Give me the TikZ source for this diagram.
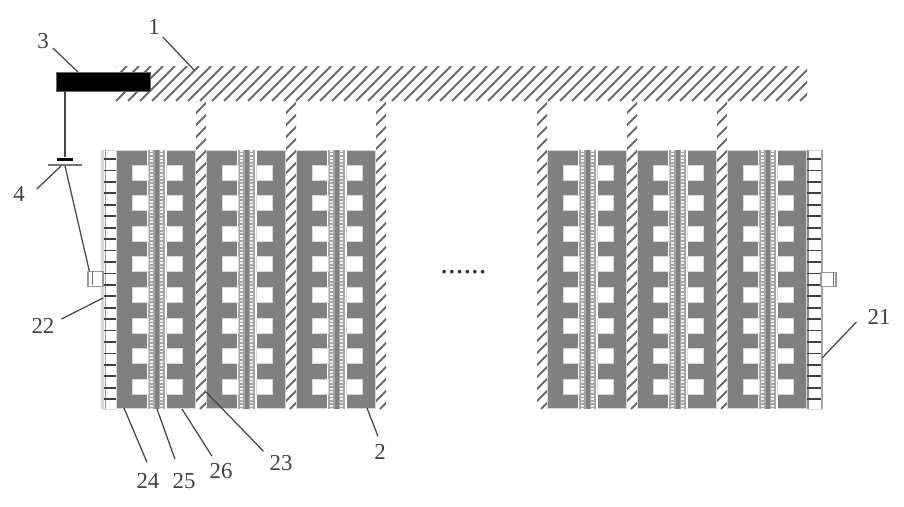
\documentclass[tikz,border=0pt]{standalone}
\usepackage{xcolor}
\usepackage{fontspec}
\setmainfont{Liberation Serif}
\usetikzlibrary{positioning,calc}
\definecolor{blockgray}{RGB}{128,128,128}
\definecolor{bandgray}{RGB}{165,165,165}
\definecolor{dotgray}{RGB}{240,240,240}
\definecolor{edgegray}{RGB}{215,215,215}
\definecolor{hatchgray}{RGB}{105,105,105}
\definecolor{leadgray}{RGB}{70,70,70}

% hatched area: x1, y1, x2, y2
\newcommand{\hatchbox}[4]{%
    \begin{scope}
        \clip (#1,#2) rectangle (#3,#4);
        \pgfmathsetmacro{\hstart}{#1-(#4-#2)}
        \pgfmathsetmacro{\hnext}{\hstart+12}
        \pgfmathsetmacro{\hend}{#3}
        \foreach \d in {\hstart,\hnext,...,\hend} {
            \draw [hatchline] (\d,#4) -- ({\d+#4-#2},#2);
        }
    \end{scope}%
}

\begin{document}
\begin{tikzpicture}[x=0.02cm, y=-0.02cm]
    % Define styles
    \tikzstyle{hatchline} = [draw=hatchgray, line width=0.042cm]
    \tikzstyle{module} = [rectangle, draw=edgegray, line width=0.02cm, fill=blockgray, minimum width=1.6cm, minimum height=5.18cm, inner sep=0pt, outer sep=0pt]
    \tikzstyle{window} = [fill=white, draw=edgegray, line width=0.02cm]
    \tikzstyle{tick} = [draw=black!75, line width=0.035cm]
    \tikzstyle{tab} = [rectangle, draw=black!40, line width=0.025cm, fill=white, minimum width=0.3cm, minimum height=0.29cm, inner sep=0pt]
    \tikzstyle{lead} = [draw=leadgray, line width=0.025cm]
    \tikzstyle{numlabel} = [font=\fontsize{13}{13}\selectfont, text=black!75, inner sep=1pt]

    \useasboundingbox (0,0) rectangle (904,507);

    % Bus bar
    \hatchbox{115}{66}{807}{101}
    \node [rectangle, fill=black, draw=black!60, minimum width=1.88cm, minimum height=0.38cm, inner sep=0pt] (bar) at (103,81.5) {};

    % Hatched strips
    \foreach \x in {196,286,376,537,627,717} {
        \hatchbox{\x}{101}{\x+10}{409}
    }

    % Modules
    \foreach \x in {116,206,296,547,637,727} {
        \node [module] (mod\x) at (\x+40,279.5) {};
        \fill [white] (\x+31,150) rectangle (\x+51,409);
        \fill [bandgray] (\x+32,150) rectangle (\x+49,409);
        \fill [blockgray] (\x+38.5,150) rectangle (\x+42.5,409);
        \foreach \b in {35.2,45.8} {
            \draw [dotgray, line width=0.06cm, dash pattern=on 0.035cm off 0.033cm] (\x+\b,150) -- (\x+\b,409);
        }
        \foreach \i in {0,...,7} {
            \filldraw [window] (\x+16,165+30.6*\i) rectangle (\x+32,180+30.6*\i);
            \filldraw [window] (\x+50,165+30.6*\i) rectangle (\x+66,180+30.6*\i);
        }
    }

    % Combs on both ends
    \fill [white] (103,150) rectangle (115,409);
    \fill [white] (808,150) rectangle (821,409);
    \draw [edgegray, line width=0.05cm] (102.5,150) -- (102.5,409);
    \draw [edgegray, line width=0.02cm] (103,150) -- (116,150) (103,409) -- (116,409);
    \draw [edgegray, line width=0.02cm] (808,150) -- (822,150) (808,409) -- (822,409);
    \draw [black!40, line width=0.02cm] (105,150) -- (105,409);
    \draw [black!45, line width=0.03cm] (808,150) -- (808,409);
    \draw [black!35, line width=0.04cm] (822,150) -- (822,409);
    \foreach \i in {0,...,21} {
        \draw [tick] (104,159+11.44*\i) -- (116,159+11.44*\i);
        \draw [tick] (807,159+11.44*\i) -- (821,159+11.44*\i);
    }

    % Tabs
    \node [tab] (tableft) at (95.5,279) {};
    \node [tab] (tabright) at (828.5,279.5) {};
    \draw [draw=black!55, line width=0.02cm] (tableft.north) ++(-3,0) -- ++(0,14);
    \draw [draw=black!55, line width=0.03cm] (tabright.north) ++(5,0) -- ++(0,14);

    % Source
    \coordinate (tap) at (65,91);
    \node [rectangle, fill=black, minimum width=0.34cm, minimum height=0.07cm, inner sep=0pt] (capbar) at (65,159.5) {};
    \node [rectangle, fill=black!55, minimum width=0.68cm, minimum height=0.025cm, inner sep=0pt] (capplate) at (65,165) {};
    \draw [lead] (tap) -- (capbar);
    \draw [lead] (capplate.south) -- ($(tableft.north west)+(2,0)$);

    % Dots
    \node [font=\fontsize{17.5}{17.5}\selectfont, text=black!80, inner sep=0pt] (dots) at (463.5,272) {......};

    % Labels
    \node [numlabel] (lab1) at (154,27) {1};
    \node [numlabel] (lab3) at (43,41) {3};
    \node [numlabel] (lab4) at (19,194) {4};
    \node [numlabel] (lab22) at (43,326) {22};
    \node [numlabel] (lab21) at (879,317) {21};
    \node [numlabel] (lab24) at (148,481) {24};
    \node [numlabel] (lab25) at (184,481) {25};
    \node [numlabel] (lab26) at (221,471) {26};
    \node [numlabel] (lab23) at (281,463) {23};
    \node [numlabel] (lab2) at (380,452) {2};

    % Leader ends
    \coordinate (end1) at (194,70);
    \coordinate (end3) at (78,72);
    \coordinate (end4) at (61,166);
    \coordinate (end22) at (103,298);
    \coordinate (end21) at (822,358);
    \coordinate (end24) at (124,408);
    \coordinate (end25) at (157,409);
    \coordinate (end26) at (182,409);
    \coordinate (end23) at (206,392);
    \coordinate (end2) at (367,408);

    % Leaders
    \draw [lead] (lab1.east) ++(1,10) -- (end1);
    \draw [lead] (lab3.east) ++(2,7) -- (end3);
    \draw [lead] (lab4.east) ++(10,-5) -- (end4);
    \draw [lead] (lab22.east) ++(5,-7) -- (end22);
    \draw [lead] (lab21.west) ++(-9,5) -- (end21);
    \draw [lead] (lab24.north) ++(-1,-9) -- (end24);
    \draw [lead] (lab25.north) ++(-9,-12) -- (end25);
    \draw [lead] (lab26.north) ++(-9,-5) -- (end26);
    \draw [lead] (lab23.north west) ++(-4,-2) -- (end23);
    \draw [lead] (lab2.north) ++(-2,-6) -- (end2);
\end{tikzpicture}
\end{document}
